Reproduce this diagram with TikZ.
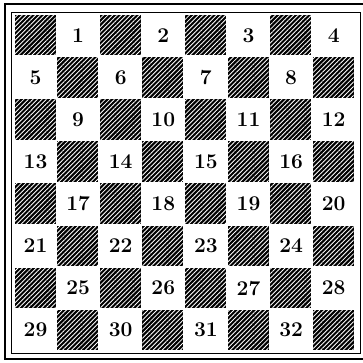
\documentclass[tikz,border=0pt]{standalone}
\usepackage{tikz}
\usetikzlibrary{patterns.meta}
\tikzset{
  darksq/.style={
    fill=black,
    postaction={pattern={Lines[angle=45,distance=3.2pt,line width=0.85pt]}, pattern color=white},
  },
  num/.style={font=\fontsize{21}{24}\selectfont\bfseries, inner sep=0pt},
  frame/.style={line width=2.5pt},
}
\begin{document}
\begin{tikzpicture}[x=1pt,y=-1pt]
  \fill[white] (0,0) rectangle (363,363);
  \useasboundingbox (0,0) rectangle (363,363);

  % double frame
  \draw[frame] (5,4) rectangle (370,359);
  \draw[line width=0.9pt] (11,12) rectangle (360,353);

  % dark squares and numbered light squares
  \foreach \r in {0,...,7} {
    \foreach \c in {0,...,7} {
      \pgfmathtruncatemacro{\odd}{mod(\r+\c,2)}
      \ifnum\odd=0
        \fill[darksq] ({14.5+42.6*\c},{15+42.1*\r}) rectangle ++(41,40.5);
      \else
        \pgfmathtruncatemacro{\k}{4*\r+floor(\c/2)+1}
        \node[num] (n\k) at ({35.5+42.6*\c},{35.5+42.1*\r}) {\k};
      \fi
    }
  }
\end{tikzpicture}
\end{document}
